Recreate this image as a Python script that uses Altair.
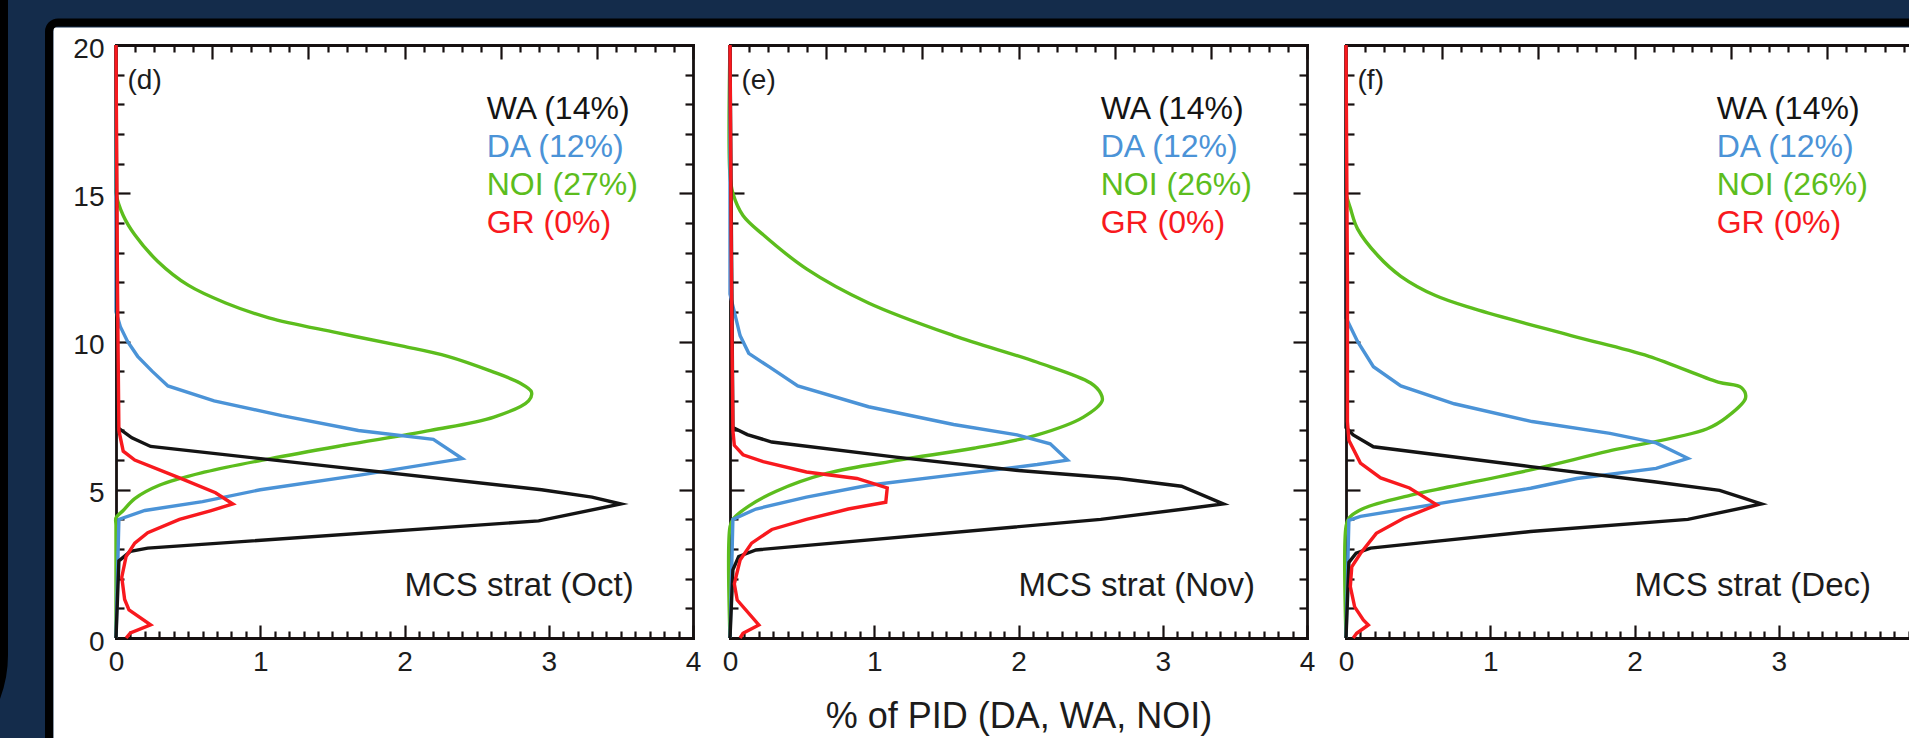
import altair as alt
import pandas as pd

# ---------------------------------------------------------------- data
SERIES = ["WA", "DA", "NOI", "GR"]
SERIES_COLORS = ["#141414", "#4b93d7", "#5cbd1d", "#f8191e"]
MONTHS = ["Oct", "Nov", "Dec"]
PANEL_TAGS = ["(d)", "(e)", "(f)"]
SHARE_OCT = [14, 12, 27, 0]
SHARE_NOV = [14, 12, 26, 0]
SHARE_DEC = [14, 12, 26, 0]
X_TICKS = [0, 1, 2, 3, 4]
Y_TICKS = [0, 5, 10, 15, 20]
TOP_TICKS = [0, 1, 2, 3, 4, 5, 6]
X_TITLE = "% of PID (DA, WA, NOI)"

# October: height (km) and frequency (%) along each profile
OCT_WA_KM = [20, 7.1, 6.75, 6.46, 5.0, 4.75, 4.52, 3.95, 3.03, 2.92, 2.6, 0]
OCT_WA_PCT = [0, 0.01, 0.11, 0.24, 2.95, 3.3, 3.5, 2.93, 0.22, 0.1, 0.02, 0]
OCT_DA_KM = [20, 11.0, 10.5, 10.0, 9.5, 9.0, 8.5, 8.0, 7.5, 7.0, 6.7, 6.05, 5.5, 5.0, 4.6, 4.3, 4.0, 0]
OCT_DA_PCT = [0, 0.0, 0.03, 0.08, 0.15, 0.25, 0.36, 0.68, 1.15, 1.68, 2.2, 2.4, 1.7, 1.0, 0.6, 0.2, 0.02, 0]
OCT_NOI_KM = [20, 15.2, 15.0, 14.25, 13.6, 12.7, 11.9, 11.3, 10.8, 10.3, 9.85, 9.5, 9.0, 8.6, 8.3, 8.0,
              7.45, 7.0, 6.5, 6.05, 5.6, 5.15, 4.7, 4.3, 4.05, 3.8, 0]
OCT_NOI_PCT = [0, 0.0, 0.0, 0.05, 0.13, 0.29, 0.5, 0.76, 1.06, 1.53, 1.98, 2.3, 2.6, 2.8, 2.88, 2.86,
               2.62, 2.18, 1.58, 1.07, 0.62, 0.3, 0.13, 0.05, 0.0, 0.0, 0]
OCT_GR_KM = [20, 12, 7.0, 6.3, 6.0, 5.4, 4.9, 4.52, 4.3, 4.0, 3.55, 3.2, 2.75, 2.05, 1.3, 0.95, 0.44, 0.17, 0]
OCT_GR_PCT = [0.0, 0.01, 0.02, 0.05, 0.13, 0.44, 0.69, 0.81, 0.66, 0.44, 0.22, 0.13, 0.07, 0.04, 0.06,
              0.09, 0.24, 0.1, 0.07]

# November
NOV_WA_KM = [20, 7.1, 6.86, 6.61, 6.1, 5.65, 5.38, 5.12, 4.52, 4.35, 4.0, 2.97, 2.75, 2.3, 0]
NOV_WA_PCT = [0, 0.02, 0.12, 0.29, 1.15, 2.0, 2.7, 3.13, 3.42, 3.15, 2.57, 0.18, 0.06, 0.02, 0]
NOV_DA_KM = [20, 11.6, 11.0, 10.2, 9.6, 9.15, 8.5, 7.8, 7.2, 6.85, 6.55, 6.0, 5.85, 5.5, 5.15, 4.75, 4.35, 4.0, 0]
NOV_DA_PCT = [0, 0.0, 0.03, 0.07, 0.13, 0.27, 0.47, 0.96, 1.55, 1.99, 2.22, 2.34, 2.13, 1.55, 0.96, 0.53,
              0.18, 0.02, 0]
NOV_NOI_KM = [20, 15.6, 15.0, 14.25, 13.6, 12.45, 11.3, 10.2, 9.3, 8.6, 8.25, 8.0, 7.45, 6.85, 6.4, 6.0,
              5.55, 4.95, 4.45, 4.0, 3.75, 0]
NOV_NOI_PCT = [0, 0.0, 0.02, 0.09, 0.23, 0.53, 0.96, 1.55, 2.13, 2.5, 2.57, 2.58, 2.45, 2.13, 1.69, 1.17,
               0.67, 0.32, 0.13, 0.02, 0.0, 0]
NOV_GR_KM = [20, 12, 7.0, 6.5, 6.18, 5.95, 5.6, 5.38, 5.06, 4.58, 4.35, 4.0, 3.66, 3.2, 2.63, 1.83, 1.28,
             0.44, 0.16, 0]
NOV_GR_PCT = [0.0, 0.01, 0.02, 0.03, 0.09, 0.23, 0.53, 0.88, 1.09, 1.08, 0.82, 0.53, 0.29, 0.15, 0.07,
              0.03, 0.05, 0.2, 0.09, 0.07]

# December
DEC_WA_KM = [20, 7.1, 6.85, 6.45, 5.78, 5.26, 4.98, 4.52, 4.0, 3.59, 3.2, 3.03, 2.86, 2.55, 0]
DEC_WA_PCT = [0, 0.0, 0.05, 0.19, 1.28, 2.15, 2.59, 2.88, 2.37, 1.28, 0.5, 0.17, 0.07, 0.02, 0]
DEC_DA_KM = [20, 10.8, 10.0, 9.15, 8.5, 7.9, 7.3, 6.9, 6.58, 6.06, 5.72, 5.38, 5.05, 4.5, 4.1, 3.97, 0]
DEC_DA_PCT = [0, 0.0, 0.08, 0.19, 0.38, 0.75, 1.29, 1.83, 2.15, 2.37, 2.15, 1.6, 1.28, 0.6, 0.1, 0.02, 0]
DEC_NOI_KM = [20, 15.2, 15.0, 14.5, 13.8, 12.9, 12.2, 11.55, 11.1, 10.2, 9.5, 8.63, 8.45, 8.1, 7.45, 7.05,
              6.3, 5.67, 5.1, 4.82, 4.37, 4.04, 3.75, 0]
DEC_NOI_PCT = [0, 0.0, 0.0, 0.03, 0.08, 0.22, 0.38, 0.62, 0.89, 1.56, 2.1, 2.58, 2.74, 2.77, 2.64, 2.5,
               1.82, 1.28, 0.72, 0.45, 0.12, 0.02, 0.0, 0]
DEC_GR_KM = [20, 12, 7.3, 6.67, 5.9, 5.4, 5.06, 4.49, 4.04, 3.53, 2.85, 2.4, 1.73, 1.05, 0.61, 0.44, 0.16, 0]
DEC_GR_PCT = [0.0, 0.01, 0.01, 0.02, 0.1, 0.24, 0.44, 0.63, 0.4, 0.21, 0.1, 0.04, 0.03, 0.06, 0.12,
              0.155, 0.074, 0.05]

PROFILES = [
    {"WA": (OCT_WA_KM, OCT_WA_PCT), "DA": (OCT_DA_KM, OCT_DA_PCT),
     "NOI": (OCT_NOI_KM, OCT_NOI_PCT), "GR": (OCT_GR_KM, OCT_GR_PCT)},
    {"WA": (NOV_WA_KM, NOV_WA_PCT), "DA": (NOV_DA_KM, NOV_DA_PCT),
     "NOI": (NOV_NOI_KM, NOV_NOI_PCT), "GR": (NOV_GR_KM, NOV_GR_PCT)},
    {"WA": (DEC_WA_KM, DEC_WA_PCT), "DA": (DEC_DA_KM, DEC_DA_PCT),
     "NOI": (DEC_NOI_KM, DEC_NOI_PCT), "GR": (DEC_GR_KM, DEC_GR_PCT)},
]
SHARES = [SHARE_OCT, SHARE_NOV, SHARE_DEC]

# ---------------------------------------------------------------- layout
PAD_L, PAD_T = 53, 27
W, H = 1909 - PAD_L, 738 - PAD_T
PANEL_W = 577
X0 = [63, 677, 1293]          # left edge of each panel inside the white sheet
Y_TOP, Y_BOT = 18, 611        # 20 km and 0 km

NAVY = "#142c4b"
INK = "#161010"
TEXT = "#1c1c1c"
FONT = "Liberation Sans"

Y_SCALE = alt.Scale(domain=[0, 20], range=[Y_BOT, Y_TOP], nice=False, zero=False)
X_MINOR = [round(i * 0.1, 1) for i in range(41) if i % 10]
TOP_MINOR = [round(i * 0.2, 1) for i in range(31) if i % 5]
Y_MINOR = [v for v in range(1, 20) if v % 5]


def x_scale(p, top=4):
    return alt.Scale(domain=[0, top], range=[X0[p], X0[p] + PANEL_W], nice=False, zero=False)


def axis(orient, offset, values, tick=0, labels=False, domain=False, **extra):
    kw = dict(orient=orient, offset=offset, values=values, grid=False, title=None,
              labels=labels, domain=domain, ticks=tick > 0, tickSize=tick,
              tickWidth=2.2, tickColor=INK, domainColor=INK, domainWidth=2.8,
              domainCap="square", labelFont=FONT, labelFontSize=28, labelColor=TEXT,
              labelFlush=False, labelOverlap=False)
    kw.update(extra)
    return alt.Axis(**kw)


def profile_frame(p, name):
    km, pct = PROFILES[p][name]
    return pd.DataFrame({"km": km, "pct": pct, "idx": list(range(len(km)))})


def guide(p, xaxis, yaxis, top=4):
    return alt.Chart(profile_frame(p, "WA")).mark_point(opacity=0).encode(
        x=alt.X("pct:Q", scale=x_scale(p, top), axis=xaxis),
        y=alt.Y("km:Q", scale=Y_SCALE, axis=yaxis),
    )


def label(p, text, x, y, color, size, align="left"):
    return alt.Chart(pd.DataFrame({"label": [text]})).mark_text(
        align=align, baseline="middle", font=FONT, fontSize=size, color=color
    ).encode(
        x=alt.XDatum(x, type="quantitative", scale=x_scale(p), axis=None),
        y=alt.YDatum(y, type="quantitative", scale=Y_SCALE, axis=None),
        text="label:N",
    )


layers = []

# framing: neighbouring slide box at the far left and the white sheet's border
layers.append(
    alt.Chart(pd.DataFrame({"label": [""]})).mark_rect(
        fill=NAVY, stroke="black", strokeWidth=8, cornerRadius=120
    ).encode(x=alt.value(-700), x2=alt.value(-49), y=alt.value(-300), y2=alt.value(748))
)
layers.append(
    alt.Chart(pd.DataFrame({"label": [""]})).mark_rect(
        fill="white", fillOpacity=0, stroke="black", strokeWidth=8, cornerRadius=9
    ).encode(x=alt.value(-4), x2=alt.value(W + 40), y=alt.value(-4.5), y2=alt.value(H + 40))
)

for p in range(3):
    left, right = X0[p], X0[p] + PANEL_W
    # the last panel runs off the sheet, so its "4" is not printed
    tick_labels = X_TICKS if p < 2 else X_TICKS[:-1]
    bottom_extra = {}
    if p == 1:
        bottom_extra = dict(title=X_TITLE, titleFont=FONT, titleFontSize=36,
                            titleFontWeight="normal", titleColor=TEXT,
                            titleY=78, titleBaseline="middle")
    # bottom line with labels, left line (labels on the first panel only)
    layers.append(guide(
        p,
        axis("bottom", Y_BOT - H, tick_labels, 0, labels=True, domain=True, labelPadding=10, **bottom_extra),
        axis("left", -left, Y_TICKS, 0, labels=(p == 0), domain=True, labelPadding=12, labelOffset=4),
    ))
    # inward ticks along the bottom and the left side
    layers.append(guide(p, axis("top", -Y_BOT, X_TICKS, 13), axis("right", left - W, Y_TICKS, 14)))
    layers.append(guide(p, axis("top", -Y_BOT, X_MINOR, 7), axis("right", left - W, Y_MINOR, 8)))
    # top line (0-6 scale) and right line, ticks pointing inward
    layers.append(guide(p, axis("bottom", Y_TOP - H, TOP_TICKS, 14, domain=True),
                        axis("left", -right, Y_TICKS, 14, domain=True), top=6))
    layers.append(guide(p, axis("bottom", Y_TOP - H, TOP_MINOR, 7),
                        axis("left", -right, Y_MINOR, 8), top=6))

    # profiles (the broad NOI profile is drawn as a smooth curve)
    for name in ["NOI", "DA", "WA", "GR"]:
        color = SERIES_COLORS[SERIES.index(name)]
        interp = "catmull-rom" if name == "NOI" else "linear"
        layers.append(
            alt.Chart(profile_frame(p, name)).mark_line(
                color=color, strokeWidth=3.4, strokeJoin="miter", strokeMiterLimit=6,
                interpolate=interp,
            ).encode(
                x=alt.X("pct:Q", scale=x_scale(p), axis=None),
                y=alt.Y("km:Q", scale=Y_SCALE, axis=None),
                order=alt.Order("idx:Q"),
            )
        )

    # annotations
    layers.append(label(p, PANEL_TAGS[p], 0.08, 18.8, TEXT, 28))
    for i, name in enumerate(SERIES):
        layers.append(label(p, f"{name} ({SHARES[p][i]}%)", 2.57, 17.84 - 1.28 * i,
                            SERIES_COLORS[i], 32))
    layers.append(label(p, f"MCS strat ({MONTHS[p]})", 2.0, 1.75, TEXT, 33))

chart = alt.layer(*layers).resolve_scale(x="independent").resolve_axis(
    x="independent", y="independent"
).properties(
    width=W,
    height=H,
    padding={"left": PAD_L, "top": PAD_T, "right": 0, "bottom": 0},
    autosize=alt.AutoSizeParams(type="none"),
    background=NAVY,
).configure_view(fill="white", stroke="transparent")

chart.save("out.html", embed_options={"renderer": "svg", "actions": False})
